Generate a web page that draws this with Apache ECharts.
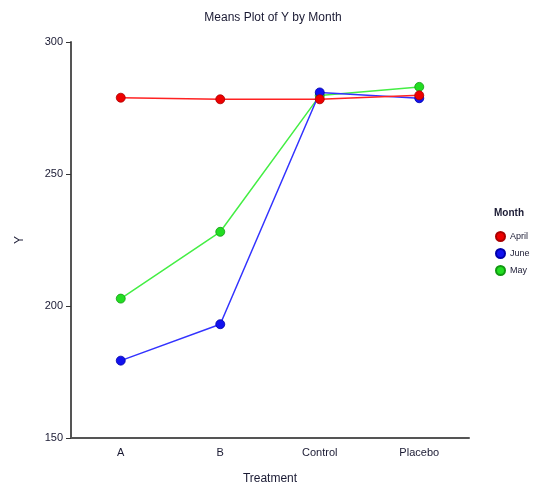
<!DOCTYPE html>
<html>
<head>
<meta charset="utf-8">
<script src="https://cdn.jsdelivr.net/npm/echarts@6/dist/echarts.min.js"></script>
<style>
  html, body { margin: 0; padding: 0; background: #fff; }
  #chart { width: 537px; height: 485px; }
</style>
</head>
<body>
<div id="chart"></div>
<script>
// Treatment groups on the x axis
const treatments = ['A', 'B', 'Control', 'Placebo'];

// Mean of Y per treatment, one array per month
const aprilMeans = [278.9, 278.3, 278.3, 279.8];
const juneMeans = [179.3, 193.1, 280.9, 278.7];
const mayMeans = [202.8, 228.1, 279.7, 283.0];

const yTicks = [150, 200, 250, 300];

const FONT = 'Liberation Sans, Arial, sans-serif';

function lineSeries(name, values, lineColor, dotColor, edgeColor, z) {
  return {
    name: name,
    type: 'line',
    data: values,
    z: z,
    symbol: 'circle',
    symbolSize: 9,
    showSymbol: true,
    lineStyle: { color: lineColor, width: 1.5 },
    itemStyle: { color: dotColor, borderColor: edgeColor, borderWidth: 0.8 },
    emphasis: { disabled: true },
    animation: false
  };
}

const chart = echarts.init(document.getElementById('chart'), null, { renderer: 'canvas' });

chart.setOption({
  backgroundColor: '#ffffff',
  animation: false,
  title: [
    {
      text: 'Means Plot of Y by Month',
      left: 268,
      textAlign: 'center',
      top: 7,
      textStyle: { fontFamily: FONT, fontSize: 12, fontWeight: 'normal', color: '#1a1a33' }
    },
    {
      text: 'Month',
      left: 489,
      top: 203,
      textStyle: { fontFamily: FONT, fontSize: 10, fontWeight: 'bold', color: '#1a1a33' }
    }
  ],
  legend: {
    data: ['April', 'June', 'May'],
    orient: 'vertical',
    left: 490,
    top: 226,
    itemWidth: 9,
    itemHeight: 9,
    itemGap: 6,
    icon: 'circle',
    textStyle: { fontFamily: FONT, fontSize: 9, color: '#1a1a33' }
  },
  grid: { left: 71, right: 68, top: 42, bottom: 47, outerBoundsMode: 'none', containLabel: false },
  xAxis: {
    type: 'category',
    data: treatments,
    boundaryGap: true,
    name: 'Treatment',
    nameLocation: 'middle',
    nameGap: 35,
    nameTextStyle: { fontFamily: FONT, fontSize: 12, color: '#1a1a33' },
    axisLine: { lineStyle: { color: '#555', width: 2 } },
    axisTick: { alignWithLabel: true, length: 4, lineStyle: { color: '#333', width: 1 } },
    axisLabel: { fontFamily: FONT, fontSize: 11, color: '#1a1a33', margin: 9 },
    splitLine: { show: false }
  },
  yAxis: {
    type: 'value',
    min: yTicks[0],
    max: yTicks[yTicks.length - 1],
    interval: 50,
    name: 'Y',
    nameLocation: 'middle',
    nameGap: 45,
    nameRotate: 90,
    nameTextStyle: { fontFamily: FONT, fontSize: 12, color: '#1a1a33' },
    axisLine: { show: true, lineStyle: { color: '#555', width: 2 } },
    axisTick: { show: true, length: 5, lineStyle: { color: '#333', width: 1 } },
    axisLabel: { fontFamily: FONT, fontSize: 11, color: '#1a1a33', margin: 8 },
    splitLine: { show: false }
  },
  series: [
    lineSeries('May', mayMeans, '#44ee44', '#22dd22', '#119911', 2),
    lineSeries('June', juneMeans, '#3333ff', '#1111ee', '#0000aa', 3),
    lineSeries('April', aprilMeans, '#ff2222', '#ee0000', '#aa0000', 4)
  ]
});
</script>
</body>
</html>
